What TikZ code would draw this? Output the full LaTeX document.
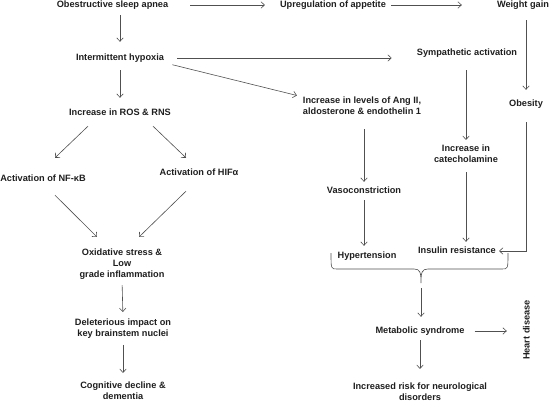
\documentclass[tikz,border=0pt]{standalone}
\usepackage{fontspec}
\setmainfont{Liberation Sans}
\usetikzlibrary{arrows.meta}
\definecolor{txt}{HTML}{1E1E1E}
\definecolor{ln}{HTML}{505050}
\begin{document}
\begin{tikzpicture}[x=1pt,y=-1pt,
  lblm/.style={inner sep=0pt, align=center, text=txt,
    font=\fontsize{9.2}{11}\selectfont\bfseries},
  lbl/.style={lblm, text height=7pt, text depth=2pt},
  arr/.style={draw=ln, line width=0.6pt, -{Straight Barb[length=3.5pt,width=6.5pt,line width=0.6pt]}},
  plain/.style={draw=ln, line width=0.6pt}]
\useasboundingbox (0,0) rectangle (553,404);
% nodes
\node[lbl] (osa) at (112.5,5) {Obestructive sleep apnea};
\node[lbl] (upa) at (333,5) {Upregulation of appetite};
\node[lbl] (wg) at (523,5) {Weight gain};
\node[lbl] (ob) at (526,104) {Obesity};
\node[lbl] (ih) at (120,58) {Intermittent hypoxia};
\node[lbl] (sa) at (467,53) {Sympathetic activation};
\node[lblm] (ang) at (362,106) {Increase in levels of Ang II,\\aldosterone \& endothelin 1};
\node[lblm] (cat) at (466,154) {Increase in\\catecholamine};
\node[lbl] (vaso) at (364,191) {Vasoconstriction};
\node[lbl] (hyp) at (367,256) {Hypertension};
\node[lbl] (ir) at (457,251) {Insulin resistance};
\node[lbl] (ms) at (420,331) {Metabolic syndrome};
\node[lbl, rotate=90] (hd) at (527,330) {Heart disease};
\node[lblm] (risk) at (420,392) {Increased risk for neurological\\disorders};
\node[lbl] (ros) at (120,113) {Increase in ROS \& RNS};
\node[lbl] (nfkb) at (43,179) {Activation of NF-κB};
\node[lbl] (hif) at (199,173) {Activation of HIFα};
\node[lblm] (ox) at (122,264) {Oxidative stress \&\\Low\\grade inflammation};
\node[lblm] (del) at (123,328.5) {Deleterious impact on\\key brainstem nuclei};
\node[lblm] (cog) at (123,390.5) {Cognitive decline \&\\dementia};
\coordinate (bt) at (421,283);
% top row
\draw[arr, shorten <=22pt, shorten >=15pt] (osa.east) -- (upa.west);
\draw[arr, shorten <=5pt, shorten >=35pt] (upa.east) -- (wg.west);
\draw[arr, shorten <=10.5pt, shorten >=9.5pt] (wg.south -| ob.north) -- (ob.north);
\draw[arr, shorten <=13.5pt, shorten >=3pt] (ob.south) |- (ir.east);
% middle
\draw[arr, shorten <=5.5pt, shorten >=11.5pt] (osa.south -| ih.north) -- (ih.north);
\draw[arr, shorten <=13pt, shorten >=25pt] (ih.east) -- (ih.east -| sa.west);
\draw[arr, shorten <=8.5pt, shorten >=6pt] (ih.south east) -- (ang.north west);
\draw[arr, shorten <=12.5pt, shorten >=5pt] (sa.south -| cat.north) -- (cat.north);
\draw[arr, shorten <=9pt, shorten >=4.5pt] (cat.south) -- (cat.south |- ir.north);
\draw[arr, shorten <=14pt, shorten >=4.5pt] (ang.south -| vaso.north) -- (vaso.north);
\draw[arr, shorten <=4.5pt, shorten >=5.5pt] (vaso.south) -- (vaso.south |- hyp.north);
% brace
\draw[plain] (331,253) .. controls (331,269) .. (337,269) -- (414,269)
  .. controls (420,269) and (421,272) .. (bt)
  .. controls (421,272) and (422,269) .. (428,269) -- (502,269)
  .. controls (508,269) .. (508,253);
\draw[arr, shorten <=5pt, shorten >=9.5pt] (bt) -- (bt |- ms.north);
\draw[arr, shorten <=10pt, shorten >=15.5pt] (ms.east) -- (ms.east -| hd.north);
\draw[arr, shorten <=4.5pt, shorten >=14pt] (ms.south) -- (ms.south |- risk.north);
% left column
\draw[arr, shorten <=7.5pt, shorten >=10.5pt] (ih.south) -- (ros.north);
\draw[arr] ([shift={(-32,8.5)}]ros.south) -- ([shift={(12,-16.5)}]nfkb.north);
\draw[arr] ([shift={(33,8.5)}]ros.south) -- ([shift={(-13,-10.5)}]hif.north);
\draw[arr] ([shift={(12,11.5)}]nfkb.south) -- ([shift={(-25,-11.5)}]ox.north);
\draw[arr] ([shift={(-13,13.5)}]hif.south) -- ([shift={(17,-11.5)}]ox.north);
\draw[arr, shorten <=5.5pt, shorten >=6.5pt] (ox.south) -- (del.north);
\draw[arr, shorten <=6.5pt, shorten >=8.5pt] (del.south) -- (cog.north);
\end{tikzpicture}
\end{document}
